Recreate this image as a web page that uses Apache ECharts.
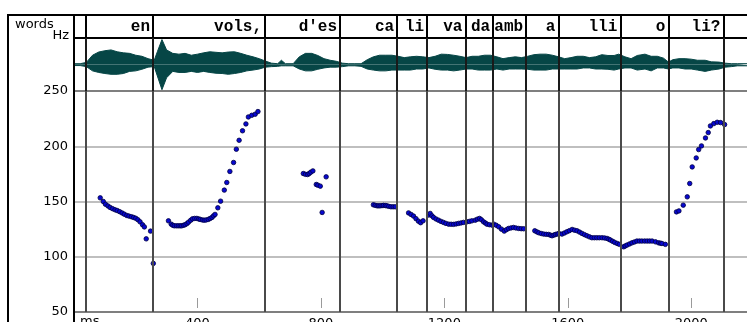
<!DOCTYPE html>
<html>
<head>
<meta charset="utf-8">
<script src="https://cdn.jsdelivr.net/npm/echarts@6/dist/echarts.min.js"></script>
<style>
  html, body { margin: 0; padding: 0; background: #fff; }
  #chart { width: 747px; height: 322px; }
</style>
</head>
<body>
<div id="chart"></div>
<script>
// Word tier: labels and segment boundaries (ms)
const words = ['en', 'vols,', "d'es", 'ca', 'li', 'va', 'da', 'amb', 'a', 'lli', 'o', 'li?'];
const boundaries = [39, 256, 619, 862, 1047, 1144, 1268, 1358, 1465, 1569, 1770, 1926, 2104];

// Waveform envelope (ms, upper and lower amplitude, full scale = 100)
const waveTime = [0, 20, 40, 60, 80, 100, 120, 140, 160, 180, 200, 220, 240, 260, 270, 285, 300, 320, 340, 360,
  380, 400, 420, 440, 460, 480, 500, 520, 540, 560, 580, 600, 620, 640, 660, 672, 685, 710, 730, 750,
  770, 790, 810, 830, 850, 870, 890, 910, 930, 950, 970, 990, 1010, 1030, 1050, 1070, 1090, 1110, 1130, 1150,
  1170, 1190, 1210, 1230, 1250, 1270, 1290, 1310, 1330, 1350, 1370, 1390, 1410, 1430, 1450, 1470, 1490, 1510, 1530, 1550,
  1570, 1590, 1610, 1630, 1650, 1670, 1690, 1710, 1730, 1750, 1765, 1785, 1805, 1825, 1850, 1870, 1890, 1910, 1926, 1940,
  1960, 1980, 2000, 2020, 2045, 2065, 2090, 2110, 2130, 2150, 2200];
const waveTop = [3, 3, 8, 35, 47, 52, 55, 48, 44, 42, 35, 31, 22, 16, 48, 94, 55, 42, 39, 42,
  35, 39, 44, 48, 46, 44, 47, 48, 42, 35, 29, 22, 13, 5, 3, 16, 3, 3, 29, 42,
  42, 34, 22, 16, 12, 5, 3, 3, 3, 18, 29, 35, 35, 35, 31, 26, 29, 31, 29, 26,
  31, 39, 38, 35, 31, 26, 31, 31, 35, 35, 29, 22, 26, 29, 26, 31, 37, 39, 39, 35,
  29, 22, 26, 31, 31, 26, 29, 37, 34, 34, 39, 29, 22, 34, 39, 31, 31, 24, 9, 18,
  22, 22, 20, 16, 16, 10, 9, 5, 3, 3, 3];
const waveBottom = [-4, -4, -8, -24, -30, -34, -37, -37, -34, -26, -24, -18, -10, -8, -43, -95, -50, -26, -30, -30,
  -26, -30, -26, -30, -33, -34, -37, -34, -30, -24, -21, -17, -10, -8, -7, -5, -5, -5, -17, -24,
  -24, -18, -13, -10, -10, -8, -5, -5, -7, -17, -21, -24, -24, -21, -21, -21, -21, -17, -17, -13,
  -18, -21, -21, -24, -21, -17, -17, -21, -21, -21, -17, -21, -17, -17, -17, -18, -21, -21, -21, -17,
  -17, -17, -17, -17, -13, -13, -17, -17, -18, -21, -17, -13, -13, -21, -17, -24, -13, -13, -17, -13,
  -13, -17, -17, -21, -26, -21, -17, -10, -8, -5, -5];

// Fundamental frequency track (ms, Hz)
const f0Time = [85, 95, 102, 110, 117, 125, 133, 140, 148, 156, 163, 171, 178, 186, 193, 200, 207, 214, 222, 228, 234, 248, 257,
  306, 315, 320, 325, 332, 338, 344, 349, 355, 360, 366, 371, 378, 384, 391, 398, 404, 409, 416, 422, 428, 435, 441, 447, 452, 457,
  466, 475, 487, 495, 505, 517, 526, 535, 546, 557, 565, 576, 587, 596,
  743, 750, 757, 762, 767, 774, 785, 790, 798, 804, 817,
  970, 976, 982, 987, 992, 998, 1003, 1009, 1014, 1020, 1027, 1034, 1041,
  1084, 1092, 1100, 1108, 1116, 1123, 1131,
  1149, 1154, 1160, 1165, 1173, 1181, 1189, 1197, 1205, 1214, 1222, 1230, 1238, 1246, 1254, 1262,
  1273, 1281, 1289, 1300, 1307, 1314, 1320, 1327, 1333, 1338, 1346, 1355,
  1360, 1368, 1376, 1385, 1394, 1401, 1408, 1416, 1424, 1432, 1441, 1449, 1457,
  1493, 1500, 1506, 1514, 1522, 1530, 1538, 1544, 1549, 1555, 1560, 1566,
  1571, 1581, 1589, 1597, 1605, 1614, 1622, 1630, 1638, 1646, 1654, 1662, 1670, 1678, 1686, 1694, 1702, 1711, 1719, 1727, 1733, 1738, 1745, 1752, 1760, 1767,
  1781, 1786, 1792, 1800, 1808, 1816, 1824, 1832, 1840, 1849, 1857, 1865, 1873, 1884, 1894, 1900, 1905, 1916,
  1952, 1960, 1974, 1987, 1995, 2003, 2016, 2024, 2033, 2046, 2055, 2062, 2073, 2084, 2095, 2108];
const f0Hz = [153.3, 150, 147.5, 146, 144.6, 143.5, 142.5, 141.8, 140.8, 139.6, 138.5, 137.4, 136.8, 136.2, 135.6, 134.8, 133.5, 131.6, 129, 127, 116.2, 123.2, 94,
  132.5, 129.5, 128.5, 128, 128, 128, 128, 128, 128.5, 129, 130, 131.3, 133, 134.3, 134.7, 134.7, 134.2, 133.8, 133.3, 133.1, 133.3, 133.8, 134.6, 135.6, 137, 138.3,
  144.3, 150.3, 160.3, 167.2, 177.2, 185.3, 197.3, 205.4, 214, 220.2, 226.5, 228, 229, 231.4,
  175.3, 174.6, 174.4, 175.3, 176.5, 177.7, 165.4, 164.8, 163.9, 140.1, 172.3,
  147, 146.5, 146.1, 146.1, 146.1, 146.3, 146.5, 146.3, 146.1, 145.6, 145.2, 145.2, 145.2,
  139.7, 138.3, 136.8, 134.5, 132.2, 130.8, 132.5,
  137.7, 139.2, 137, 135.6, 134.2, 133.1, 132, 131.1, 130.2, 129.5, 129.4, 129.3, 129.7, 130.2, 130.6, 131.1,
  131.6, 132, 132.5, 133.1, 134, 134.7, 133.5, 131.6, 130.5, 129.5, 129, 128.6,
  129.5, 128.5, 127.1, 125, 123.2, 124.5, 125.6, 126.1, 126.5, 126, 125.6, 125.4, 125.3,
  123.5, 122.5, 121.7, 121, 120.5, 120.3, 120.2, 119.5, 119, 119.6, 120.2, 120.6,
  121.1, 120.5, 121.5, 122.6, 123.6, 124.7, 124, 123.5, 122.3, 121.1, 120, 119, 118, 117.2, 117.2, 117.2, 117.2, 117.2, 117, 116.6, 115.8, 115.1, 114, 113, 112, 111.2,
  109, 109.8, 110.6, 111.6, 112.6, 113.4, 114.2, 114.2, 114.2, 114.2, 114.2, 114.2, 114.2, 113.5, 112.6, 112.3, 112, 111.2,
  140.6, 141.5, 146.7, 154.2, 166.3, 181.3, 189.4, 197, 200.3, 207.5, 212.4, 218.4, 220.5, 221.7, 221.4, 219.6];

// Axis settings
const timeMin = 0, timeMax = 2200, timeStep = 400;
const hzMin = 50, hzMax = 250, hzStep = 50;

const WAVE = '#064646';
const sans = '"DejaVu Sans", sans-serif';

function boundaryLines(color) {
  return {
    silent: true,
    symbol: 'none',
    label: { show: false },
    lineStyle: { color: color, width: 2, type: 'solid' },
    data: boundaries.map(b => ({ xAxis: b }))
  };
}

const chart = echarts.init(document.getElementById('chart'), null, { renderer: 'canvas' });

// Fixed-size tier boxes; labels may run past the container edge
const frameGrid = {
  left: 74, width: 679, show: true, borderColor: '#000', borderWidth: 2,
  backgroundColor: 'rgba(0,0,0,0)', containLabel: false, outerBoundsMode: 'none'
};

chart.setOption({
  animation: false,
  backgroundColor: '#fff',
  grid: [
    Object.assign({ top: 15, height: 23 }, frameGrid),
    Object.assign({ top: 38, height: 53 }, frameGrid),
    Object.assign({ top: 91, height: 221 }, frameGrid)
  ],
  xAxis: [
    { gridIndex: 0, type: 'value', min: timeMin, max: timeMax, show: false },
    { gridIndex: 1, type: 'value', min: timeMin, max: timeMax, show: false },
    {
      gridIndex: 2, type: 'value', position: 'bottom', min: timeMin, max: timeMax, interval: timeStep,
      axisLine: { show: false }, axisTick: { show: false }, splitLine: { show: false },
      axisLabel: {
        margin: 5, fontSize: 13, color: '#000', fontFamily: sans,
        showMinLabel: false, showMaxLabel: false,
        formatter: v => String(v)
      }
    },
    {
      gridIndex: 2, type: 'value', position: 'bottom', min: timeMin, max: timeMax, interval: timeStep, offset: -4,
      axisLine: { show: false }, axisLabel: { show: false }, splitLine: { show: false },
      axisTick: { show: true, inside: true, length: 10, lineStyle: { color: '#9a9a9a', width: 1 } }
    }
  ],
  yAxis: [
    { gridIndex: 0, type: 'value', min: 0, max: 1, show: false },
    { gridIndex: 1, type: 'value', min: -100, max: 100, show: false },
    {
      gridIndex: 2, type: 'value', min: hzMin, max: hzMax, interval: hzStep,
      axisLine: { show: false }, axisTick: { show: false },
      axisLabel: { margin: 6, fontSize: 13, color: '#000', fontFamily: sans },
      splitLine: { show: true, lineStyle: { color: '#aaaaaa', width: 1.5 } }
    }
  ],
  graphic: [
    { type: 'rect', z: 100, shape: { x: 8, y: 15, width: 66, height: 400 }, style: { fill: 'none', stroke: '#000', lineWidth: 2 } },
    { type: 'text', z: 100, x: 15, y: 24.5, style: { text: 'words', font: '13px ' + sans, fill: '#000', verticalAlign: 'middle' } },
    { type: 'text', z: 100, x: 69, y: 36, style: { text: 'Hz', font: '13px ' + sans, fill: '#000', align: 'right', verticalAlign: 'middle' } },
    { type: 'text', z: 100, x: 80, y: 315, style: { text: 'ms', font: '13px ' + sans, fill: '#000', verticalAlign: 'top' } }
  ],
  series: [
    {
      name: 'words', type: 'custom', xAxisIndex: 0, yAxisIndex: 0, z: 5,
      data: words.map((w, i) => [boundaries[i + 1], 0.5]),
      renderItem: function (params, api) {
        const p = api.coord([api.value(0), api.value(1)]);
        return {
          type: 'text', x: p[0] - 3, y: p[1],
          style: { text: words[params.dataIndex], font: 'bold 16px "Liberation Mono", monospace', fill: '#000', align: 'right', verticalAlign: 'middle' }
        };
      },
      markLine: boundaryLines('#000')
    },
    {
      name: 'wave-upper', type: 'line', xAxisIndex: 1, yAxisIndex: 1, z: 2,
      data: waveTime.map((t, i) => [t, waveTop[i]]),
      symbol: 'none', lineStyle: { color: WAVE, width: 1 }, areaStyle: { color: WAVE, opacity: 1 },
      markLine: boundaryLines('#1a1a1a')
    },
    {
      name: 'wave-lower', type: 'line', xAxisIndex: 1, yAxisIndex: 1, z: 2,
      data: waveTime.map((t, i) => [t, waveBottom[i]]),
      symbol: 'none', lineStyle: { color: WAVE, width: 1 }, areaStyle: { color: WAVE, opacity: 1 }
    },
    {
      name: 'f0-boundaries', type: 'line', xAxisIndex: 2, yAxisIndex: 2, z: 1, data: [],
      markLine: boundaryLines('#4a4a4a')
    },
    {
      name: 'F0', type: 'scatter', xAxisIndex: 2, yAxisIndex: 2, z: 3,
      data: f0Time.map((t, i) => [t, f0Hz[i]]),
      symbol: 'circle', symbolSize: 4.5,
      itemStyle: { color: '#0808d0', borderColor: '#000040', borderWidth: 0.8, opacity: 1 }
    }
  ]
});
</script>
</body>
</html>
